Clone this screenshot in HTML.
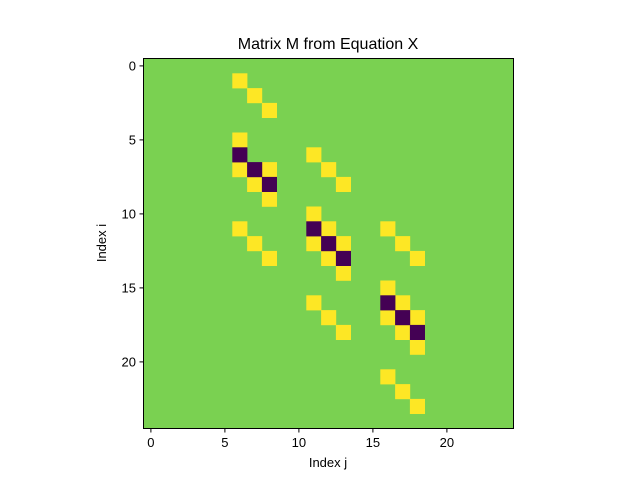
<!DOCTYPE html>
<html><head><meta charset="utf-8"><style>
body{margin:0;background:#fff;}
svg text{font-family:"Liberation Sans","DejaVu Sans",sans-serif;}
</style></head><body>
<svg id="chart" width="640" height="480" viewBox="0 0 640 480" xmlns="http://www.w3.org/2000/svg">
<rect width="640" height="480" fill="#fff"/>
<text x="328" y="49" font-size="16" text-anchor="middle">Matrix M from Equation X</text>
<g id="cells"></g>
<rect x="143.5" y="58.5" width="370" height="370" fill="none" stroke="#000" stroke-width="1"/>
<g id="ticks"></g>
<text x="328" y="467" font-size="13" text-anchor="middle">Index j</text>
<text x="106" y="243" font-size="13" text-anchor="middle" transform="rotate(-90 106 243)">Index i</text>
</svg>
<script>
const n = 25;
const yellowCells = [[1,6],[2,7],[3,8],[5,6],[6,11],[7,6],[7,8],[7,12],[8,7],[8,13],[9,8],[10,11],[11,6],[11,12],[11,16],[12,7],[12,11],[12,13],[12,17],[13,8],[13,12],[13,18],[14,13],[15,16],[16,11],[16,17],[17,12],[17,16],[17,18],[18,13],[18,17],[19,18],[21,16],[22,17],[23,18]];
const purpleCells = [[6,6],[7,7],[8,8],[11,11],[12,12],[13,13],[16,16],[17,17],[18,18]];
const tickVals = [0,5,10,15,20];
const x0=143.5, y0=58.5, size=370, c=size/n;
const sx = j => x0 + j*c;
const sy = i => y0 + i*c;
const NS="http://www.w3.org/2000/svg";
const g=document.getElementById('cells');
function cell(i,j,col,name){
  const r=document.createElementNS(NS,'rect');
  r.setAttribute('x',sx(j));r.setAttribute('y',sy(i));
  r.setAttribute('width',c+0.3);r.setAttribute('height',c+0.3);
  r.setAttribute('fill',col);
  
  
  g.appendChild(r);
}
const bg=document.createElementNS(NS,'rect');
bg.setAttribute('x',x0);bg.setAttribute('y',y0);bg.setAttribute('width',size);bg.setAttribute('height',size);bg.setAttribute('fill','#7ad151');


g.appendChild(bg);
yellowCells.forEach(p=>cell(p[0],p[1],'#fde725','cell-positive'));
purpleCells.forEach(p=>cell(p[0],p[1],'#440154','cell-negative'));
const t=document.getElementById('ticks');
tickVals.forEach(v=>{
  const xc=sx(v)+c/2, yc=sy(v)+c/2;
  const l1=document.createElementNS(NS,'line');
  l1.setAttribute('x1',xc);l1.setAttribute('x2',xc);l1.setAttribute('y1',428.5);l1.setAttribute('y2',432.5);l1.setAttribute('stroke','#000');
  
  
  t.appendChild(l1);
  const tx=document.createElementNS(NS,'text');
  tx.setAttribute('x',xc);tx.setAttribute('y',447);tx.setAttribute('font-size','13');tx.setAttribute('text-anchor','middle');tx.textContent=v;
  
  
  t.appendChild(tx);
  const l2=document.createElementNS(NS,'line');
  l2.setAttribute('x1',139.5);l2.setAttribute('x2',143.5);l2.setAttribute('y1',yc);l2.setAttribute('y2',yc);l2.setAttribute('stroke','#000');
  
  
  t.appendChild(l2);
  const ty=document.createElementNS(NS,'text');
  ty.setAttribute('x',136);ty.setAttribute('y',yc+4.5);ty.setAttribute('font-size','13');ty.setAttribute('text-anchor','end');ty.textContent=v;
  
  
  t.appendChild(ty);
});
</script>
</body></html>
